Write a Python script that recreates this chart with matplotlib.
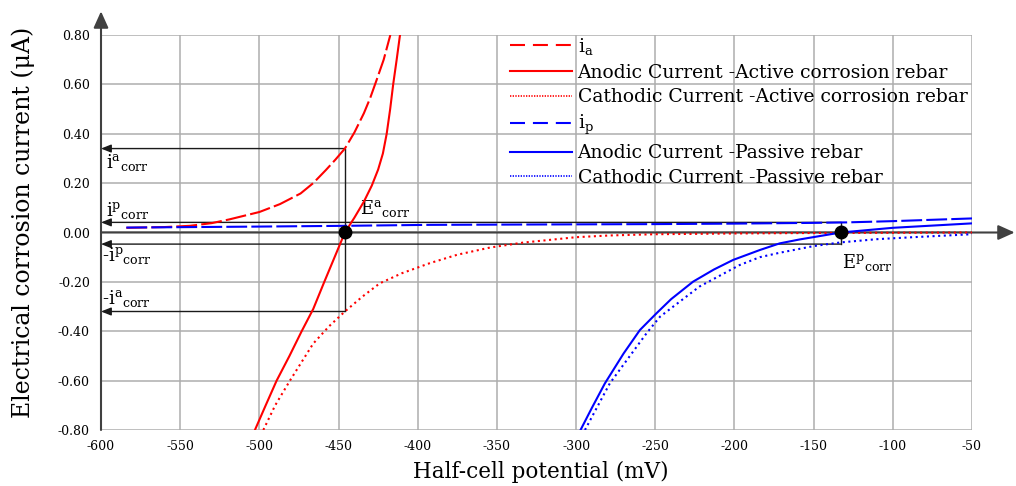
import matplotlib
matplotlib.use("Agg")
import matplotlib.pyplot as plt
from matplotlib.lines import Line2D

plt.rcParams["font.family"] = ["DejaVu Serif"]
plt.rcParams["mathtext.default"] = "regular"
plt.rcParams["axes.unicode_minus"] = False

# ---- data -------------------------------------------------------------
x_ticks = [-600, -550, -500, -450, -400, -350, -300, -250, -200, -150, -100, -50]
y_ticks = [-0.8, -0.6, -0.4, -0.2, 0.0, 0.2, 0.4, 0.6, 0.8]

# i_a (active rebar, total anodic)
ia_x = [-584, -560, -544, -530, -519, -500, -487, -474, -466, -458, -452, -446,
        -440, -434, -430, -426, -421.5, -417.3]
ia_y = [0.019, 0.022, 0.027, 0.038, 0.053, 0.083, 0.115, 0.158, 0.200, 0.253, 0.295, 0.340,
        0.405, 0.483, 0.545, 0.617, 0.700, 0.800]

# anodic current - active corrosion rebar
aa_x = [-502.8, -496.0, -489.1, -481.0, -473.3, -466.0, -459.0, -452.5, -446.0, -440.0,
        -434.0, -429.0, -425.0, -422.0, -419.6, -417.4, -415.5, -413.3, -411.2]
aa_y = [-0.80, -0.70, -0.60, -0.50, -0.40, -0.31, -0.20, -0.10, 0.0, 0.06,
        0.125, 0.19, 0.255, 0.32, 0.40, 0.50, 0.60, 0.70, 0.80]

# cathodic current - active corrosion rebar
ca_x = [-497.5, -490.0, -480.7, -466.0, -456.0, -446.0, -435.0, -424.0, -410.0, -392.3,
        -375.0, -354.4, -333.6, -300.0, -278.7, -250.0, -200.0, -150.0, -100.0, -50.0]
ca_y = [-0.80, -0.70, -0.60, -0.45, -0.38, -0.32, -0.26, -0.206, -0.165, -0.124,
        -0.090, -0.061, -0.041, -0.019, -0.012, -0.007, -0.004, -0.002, -0.001, 0.0]

# i_p (passive rebar)
ip_x = [-584, -500, -447, -392, -300, -250, -200, -150, -129, -100, -50]
ip_y = [0.020, 0.024, 0.027, 0.031, 0.033, 0.034, 0.036, 0.039, 0.041, 0.046, 0.057]

# anodic current - passive rebar
ap_x = [-297.2, -290.0, -281.8, -270.0, -259.7, -249.2, -240.0, -226.1, -213.0, -200.8,
        -184.0, -171.4, -158.7, -132.8, -100.0, -50.0]
ap_y = [-0.80, -0.71, -0.611, -0.49, -0.395, -0.327, -0.27, -0.199, -0.15, -0.111,
        -0.071, -0.044, -0.028, 0.0, 0.019, 0.037]

# cathodic current - passive rebar
cp_x = [-294.4, -278.7, -255.5, -247.0, -222.1, -196.8, -184.0, -171.4, -158.7, -150.0,
        -132.8, -110.0, -87.2, -50.0]
cp_y = [-0.80, -0.611, -0.408, -0.341, -0.219, -0.132, -0.100, -0.082, -0.066, -0.055,
        -0.040, -0.027, -0.019, -0.007]

# corrosion potentials and currents
E_a = -446.0
E_p = -133.0
ia_corr, ia_corr_neg = 0.34, -0.32
ip_corr, ip_corr_neg = 0.041, -0.047

legend_labels = ["$i_{a}$",
                 "Anodic Current -Active corrosion rebar",
                 "Cathodic Current -Active corrosion rebar",
                 "$i_{p}$",
                 "Anodic Current -Passive rebar",
                 "Cathodic Current -Passive rebar"]

# ---- figure -----------------------------------------------------------
W, H = 1016, 486
fig = plt.figure(figsize=(W / 100, H / 100), dpi=100)
ax = fig.add_axes([101 / W, 1 - 430 / H, 871 / W, 395 / H])
ax.set_xlim(-600, -50)
ax.set_ylim(-0.8, 0.8)
ax.set_xticks(x_ticks)
ax.set_xticklabels([str(v) for v in x_ticks])
ax.set_yticks(y_ticks)
ax.set_yticklabels([f"{v:.2f}" for v in y_ticks])
ax.grid(True, color="#adadad", lw=1.1)
ax.set_axisbelow(True)
for s in ax.spines.values():
    s.set_visible(False)
ax.tick_params(length=0, labelsize=9)
ax.tick_params(axis="y", pad=8)
ax.tick_params(axis="x", pad=7.5)

red, blue = "#ff0000", "#0000ff"
dash = (0, (10, 2))
dot = (0, (1, 1.7))
ax.plot(ia_x, ia_y, color=red, lw=1.5, ls=dash, zorder=4)
ax.plot(aa_x, aa_y, color=red, lw=1.5, zorder=4)
ax.plot(ca_x, ca_y, color=red, lw=1.5, ls=dot, zorder=4)
ax.plot(ip_x, ip_y, color=blue, lw=1.5, ls=dash, zorder=4)
ax.plot(ap_x, ap_y, color=blue, lw=1.5, zorder=4)
ax.plot(cp_x, cp_y, color=blue, lw=1.5, ls=dot, zorder=4)

# coordinate axes with arrow heads
axis_col = "#404040"
ax.annotate("", xy=(1.049, 0), xycoords=("axes fraction", "data"),
            xytext=(0, 0), textcoords=("axes fraction", "data"),
            arrowprops=dict(arrowstyle="-|>,head_length=1.0,head_width=0.45",
                            mutation_scale=10, lw=1.5, color=axis_col,
                            shrinkA=0, shrinkB=0),
            annotation_clip=False, zorder=3)
ax.annotate("", xy=(0, 1.06), xycoords="axes fraction",
            xytext=(0, 0), textcoords="axes fraction",
            arrowprops=dict(arrowstyle="-|>,head_length=1.0,head_width=0.45",
                            mutation_scale=10, lw=1.5, color=axis_col,
                            shrinkA=0, shrinkB=0),
            annotation_clip=False, zorder=3)

# construction lines for the corrosion points
box_col = "#1a1a1a"
ax.plot([E_a, E_a], [ia_corr_neg, ia_corr], color=box_col, lw=1.0, zorder=3)
ax.plot([E_p, E_p], [ip_corr_neg, ip_corr], color=box_col, lw=1.0, zorder=3)
for yv, xs in [(ia_corr, E_a), (ia_corr_neg, E_a), (ip_corr, E_p), (ip_corr_neg, E_p)]:
    ax.annotate("", xy=(-600, yv), xytext=(xs, yv),
                arrowprops=dict(arrowstyle="-|>,head_length=1.0,head_width=0.4",
                                mutation_scale=6, lw=1.0, color=box_col,
                                shrinkA=0, shrinkB=0),
                annotation_clip=False, zorder=3)

ax.plot([E_a, E_p], [0, 0], "o", color="black", ms=9, zorder=6, clip_on=False)

fs = 13
ax.text(-597, 0.285, "$i^{a}{}_{corr}$", fontsize=fs, ha="left", va="center")
ax.text(-597, 0.091, "$i^{p}{}_{corr}$", fontsize=fs, ha="left", va="center")
ax.text(-599.5, -0.095, "-$i^{p}{}_{corr}$", fontsize=fs, ha="left", va="center")
ax.text(-599.5, -0.269, "-$i^{a}{}_{corr}$", fontsize=fs, ha="left", va="center")
ax.text(-436.5, 0.099, "$E^{a}{}_{corr}$", fontsize=fs, ha="left", va="center")
ax.text(-132.2, -0.12, "$E^{p}{}_{corr}$", fontsize=fs, ha="left", va="center")

# legend
handles = [
    Line2D([], [], color=red, lw=1.5, ls=(0, (7.2, 3.8))),
    Line2D([], [], color=red, lw=1.5),
    Line2D([], [], color=red, lw=1.2, ls=(0, (0.8, 0.8))),
    Line2D([], [], color=blue, lw=1.5, ls=(0, (7.2, 3.8))),
    Line2D([], [], color=blue, lw=1.5),
    Line2D([], [], color=blue, lw=1.2, ls=(0, (0.8, 0.8))),
]
fig.legend(handles, legend_labels, loc="upper left",
           bbox_to_anchor=(510 / W, 1 - 36 / H), frameon=False,
           fontsize=13.5, borderpad=0, borderaxespad=0,
           handlelength=3.3, handletextpad=0.3, labelspacing=0.36)

fig.text(23 / W, 1 - 222 / H, "Electrical corrosion current (μA)",
         rotation=90, ha="center", va="center", fontsize=17)
fig.text(541 / W, 1 - 472 / H, "Half-cell potential (mV)",
         ha="center", va="center", fontsize=15.5)

fig.savefig("out.png", dpi=100)
